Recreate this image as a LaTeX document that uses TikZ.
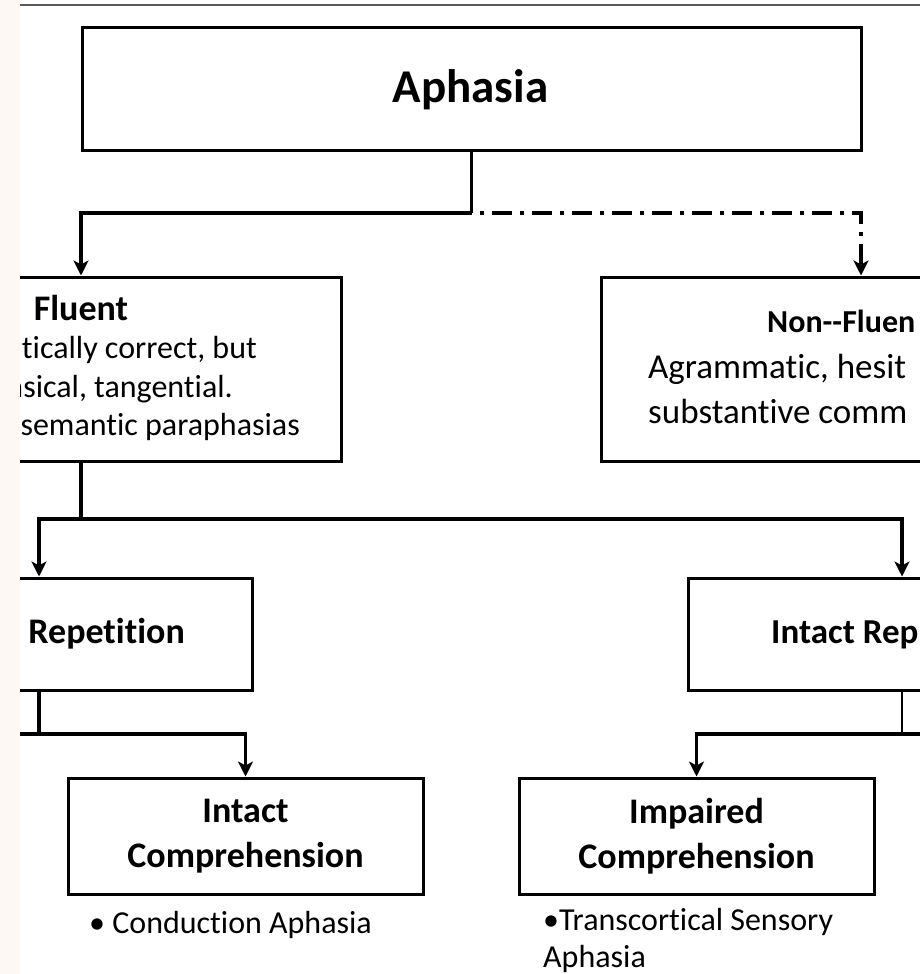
\documentclass[tikz,border=0pt]{standalone}
\usepackage{fontspec}
\setmainfont{Carlito}[Ligatures={TeX,NoCommon}]
\setsansfont{Carlito}[Ligatures={TeX,NoCommon}]
\usetikzlibrary{positioning,arrows.meta}
\definecolor{stripbg}{HTML}{FDF8F4}
\definecolor{rulegray}{HTML}{5A5A5A}

\begin{document}
\begin{tikzpicture}[x=1pt, y=-1pt, >={Stealth[length=15pt,width=15pt,inset=4pt]}]
            \tikzstyle{box}=[draw,line width=3pt,rectangle,inner sep=0pt]
            \tikzstyle{title}=[font=\sf\bfseries\fontsize{36}{45}\selectfont,inner sep=0pt]
            \tikzstyle{body}=[font=\sf\fontsize{32}{38}\selectfont,inner sep=0pt]
            \tikzstyle{conn}=[line width=3.5pt]
            \tikzstyle{arr}=[conn,->]

            \useasboundingbox (0,0) rectangle (920,974);
            \clip (0,0) rectangle (920,974);

            % top level
            \node[box,minimum width=779pt,minimum height=122pt] (aph) at (471.5,89) {};
            \node[title,font=\sf\bfseries\fontsize{47}{50}\selectfont,anchor=base] (aphtext) at (470.5,102) {Aphasia};

            % fluent / non-fluent
            \node[box,minimum width=520pt,minimum height=184pt] (flu) at (81,369) {};
            \node[title,anchor=base] (flutitle) at (81,320) {Fluent};
            \node[body,anchor=base east] (flu1) at (257,358) {tically correct, but};
            \node[body,anchor=base east] (flu2) at (233,397) {nsical, tangential.};
            \node[body,anchor=base east] (flu3) at (300,435) {semantic paraphasias};

            \node[box,minimum width=520pt,minimum height=184pt] (nonflu) at (861,369) {};
            \node[title,font=\sf\bfseries\fontsize{32}{45}\selectfont,anchor=base west] (nonflutitle) at (767,332) {Non-{}-Fluen};
            \node[body,font=\sf\fontsize{35}{45}\selectfont,anchor=base west] (nonflu1) at (648,378) {Agrammatic, hesit};
            \node[body,font=\sf\fontsize{35}{45}\selectfont,anchor=base west] (nonflu2) at (648,423) {substantive comm};

            % repetition
            \node[box,minimum width=427pt,minimum height=112pt] (imprep) at (39,634) {};
            \node[title,anchor=base east] (impreptext) at (185,643) {Repetition};
            \node[box,minimum width=427pt,minimum height=112pt] (intrep) at (902,634) {};
            \node[title,font=\sf\bfseries\fontsize{35}{45}\selectfont,anchor=base west] (intreptext) at (771,643) {Intact Rep};

            % comprehension
            \node[box,title,align=center,minimum width=355pt,minimum height=116pt] (intcomp) at (245.5,836) {Intact\\Comprehension};
            \node[box,title,align=center,minimum width=355pt,minimum height=116pt] (impcomp) at (696.5,836) {Impaired\\Comprehension};
            \node[body,anchor=base west] (intnote) at (89,933) {• Conduction Aphasia};
            \node[body,anchor=base west] (impnote1) at (543,930) {•Transcortical Sensory};
            \node[body,anchor=base west] (impnote2) at (543,967) {Aphasia};

            % branch points
            \coordinate (split1) at (471.5,213);
            \coordinate (split2) at (81,519);
            \coordinate (split3) at (39,734);
            \coordinate (split4) at (902,734);
            \coordinate (leftend) at (0,734);
            \coordinate (rightend) at (920,734);

            \draw[line width=2.5pt] (aph.south) -- (split1);
            \draw[arr] (split1) -| (flu.north);
            \draw[arr,dash pattern=on 4pt off 8pt on 20pt off 8pt,dash phase=32pt] (split1) -| (nonflu.north);

            \draw[conn] (flu.south) -- (split2);
            \draw[arr] (split2) -| (imprep.north);
            \draw[arr] (split2) -| (intrep.north);

            \draw[conn] (imprep.south) -- (split3);
            \draw[arr] (split3) -| (intcomp.north);
            \draw[conn] (split3) -- (leftend);
            \draw[line width=2.5pt] (intrep.south) -- (split4);
            \draw[arr] (split4) -| (impcomp.north);
            \draw[conn] (split4) -- (rightend);

            % page edge
            \fill[stripbg] (0,0) rectangle (20,974);
            \draw[rulegray,line width=2.5pt] (20,5) -- (920,5);
\end{tikzpicture}
\end{document}
